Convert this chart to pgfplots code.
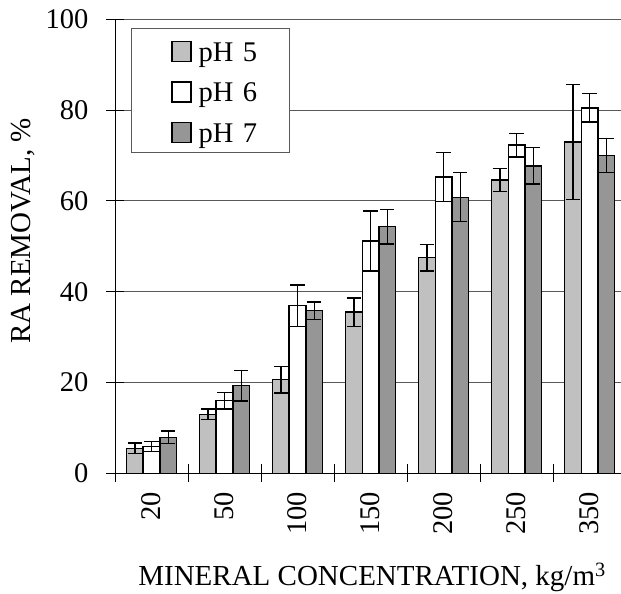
\documentclass[border=0pt]{standalone}
\usepackage{fontspec}
\setmainfont{Liberation Serif}
\usepackage{pgfplots}
\pgfplotsset{compat=1.18}
\definecolor{phfive}{RGB}{192,192,192}
\definecolor{phseven}{RGB}{150,150,150}

\pgfplotsset{
  mylegend/.style={legend image code/.code={%
      \path (-40bp,0bp);
      \draw[##1, line width=1.4bp] (0bp,-11.5bp) rectangle (19bp,8.5bp);}},
  mybar/.style={draw=black, line width=1.4bp,
    error bars/y dir=both, error bars/y explicit,
    error bars/error bar style={line width=1.4bp, black, solid},
    error bars/error mark options={rotate=90, mark size=7.2bp, line width=1.4bp, black, solid}},
}

\begin{document}
\begin{tikzpicture}
\useasboundingbox (0,0) rectangle (621bp,594bp);
\begin{axis}[
  at={(115bp,120.7bp)}, anchor=south west,
  scale only axis, width=506bp, height=454bp,
  font=\fontsize{28.5bp}{34bp}\selectfont,
  /pgf/number format/assume math mode=true,
  xmin=-0.5, xmax=6.43, ymin=0, ymax=100,
  axis x line*=bottom, axis y line*=left,
  axis line style={black, line width=1bp, -},
  x axis line style={-}, y axis line style={-},
  ybar=0pt, bar width=16.7bp,
  ytick={0,20,40,60,80,100},
  ymajorgrids,
  grid style={black!65, line width=0.9bp},
  tick align=center,
  major tick length=18bp,
  tick style={black, line width=1bp},
  yticklabel style={xshift=-14bp},
  xtick={0,1,2,3,4,5,6},
  xticklabels={20,50,100,150,200,250,350},
  xtick style={draw=none},
  xticklabel style={rotate=90, anchor=east},
  xticklabel shift=6bp,
  extra x ticks={-0.5,0.5,1.5,2.5,3.5,4.5,5.5},
  extra x tick labels={},
  extra x tick style={xtick style={draw=black, line width=1bp}, grid=none},
  xlabel={MINERAL CONCENTRATION, kg/m\textsuperscript{3}},
  xlabel style={font=\fontsize{29bp}{34bp}\selectfont, at={(axis description cs:0.508,-0.248)}, anchor=base},
  ylabel={RA REMOVAL, \%},
  ylabel style={font=\fontsize{29bp}{34bp}\selectfont, at={(axis description cs:-0.182,0.534)}, anchor=center, rotate=0},
  legend style={at={(axis description cs:0.0316,0.981)}, anchor=north west,
    draw=black!65, line width=0.9bp, fill=white,
    inner xsep=0bp, inner ysep=1.25bp, row sep=0bp,
    nodes={inner xsep=6.7bp, inner ysep=6.25bp, text height=25.5bp, text depth=2.5bp,
           text width=84.6bp, align=left}},
  legend cell align=left,
]
\addplot[mybar, fill=phfive, mylegend] table[x=x, y=y, y error=e] {
x y e
0 5.5 1.2
1 13.0 1.2
2 20.6 2.9
3 35.5 3.1
4 47.5 2.9
5 64.6 2.5
6 73.0 12.7
};
\addlegendentry{pH 5}
\addplot[mybar, fill=white, mylegend] table[x=x, y=y, y error=e] {
x y e
0 5.9 1.1
1 16.0 1.8
2 36.9 4.6
3 51.2 6.6
4 65.3 5.4
5 72.3 2.6
6 80.5 3.1
};
\addlegendentry{pH 6}
\addplot[mybar, fill=phseven, mylegend] table[x=x, y=y, y error=e] {
x y e
0 7.9 1.4
1 19.3 3.4
2 35.8 1.9
3 54.3 3.8
4 60.8 5.4
5 67.7 4.0
6 70.0 3.7
};
\addlegendentry{pH 7}
\end{axis}
\end{tikzpicture}
\end{document}
